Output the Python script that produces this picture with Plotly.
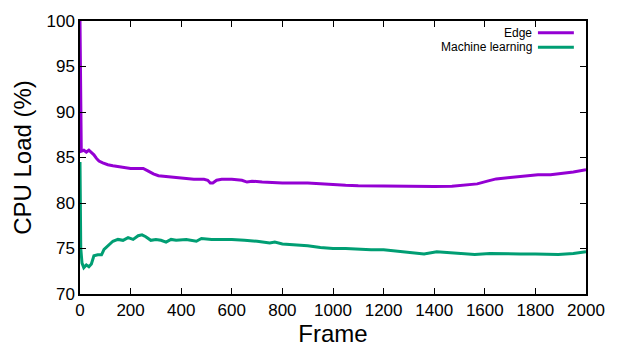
import plotly.graph_objects as go

edge_x = [0, 2, 5, 15, 25, 35, 45, 55, 65, 75, 90, 110, 130, 150, 180, 200, 230, 250, 270, 290, 310, 340,
          370, 400, 450, 490, 505, 515, 525, 540, 560, 600, 640, 660, 680, 720, 800, 900, 950, 1000, 1050,
          1100, 1200, 1300, 1400, 1470, 1520, 1570, 1610, 1645, 1700, 1760, 1810, 1860, 1900, 1950, 2000]
edge_y = [100, 86.1, 85.7, 85.8, 85.6, 85.8, 85.6, 85.3, 84.9, 84.6, 84.4, 84.2, 84.1, 84.0, 83.9, 83.8,
          83.8, 83.8, 83.5, 83.2, 83.0, 82.9, 82.8, 82.7, 82.6, 82.6, 82.5, 82.2, 82.2, 82.5, 82.6, 82.6,
          82.5, 82.3, 82.4, 82.3, 82.2, 82.2, 82.1, 82.0, 81.95, 81.9, 81.85, 81.85, 81.8, 81.85, 82.0,
          82.1, 82.4, 82.65, 82.8, 82.95, 83.1, 83.1, 83.2, 83.4, 83.65]

ml_x = [0, 3, 8, 15, 25, 35, 45, 55, 70, 85, 95, 110, 130, 150, 170, 190, 210, 230, 245, 260, 280, 300,
        320, 340, 360, 380, 420, 460, 480, 520, 560, 600, 650, 700, 750, 770, 800, 850, 900, 950, 1000,
        1050, 1100, 1150, 1200, 1250, 1300, 1360, 1410, 1460, 1520, 1560, 1620, 1680, 1740, 1800, 1890,
        1950, 2000]
ml_y = [84.5, 75.0, 73.4, 72.9, 73.2, 73.0, 73.3, 74.2, 74.3, 74.3, 74.9, 75.3, 75.8, 76.0, 75.9, 76.2,
        76.0, 76.4, 76.5, 76.3, 75.9, 76.0, 75.9, 75.7, 76.0, 75.9, 76.0, 75.8, 76.1, 76.0, 76.0, 76.0,
        75.9, 75.8, 75.6, 75.7, 75.5, 75.4, 75.3, 75.1, 75.0, 75.0, 74.9, 74.85, 74.85, 74.7, 74.6, 74.4,
        74.65, 74.55, 74.4, 74.35, 74.45, 74.4, 74.4, 74.4, 74.35, 74.45, 74.65]

series_names = ["Edge", "Machine learning"]
colors = ["#9400D3", "#009E73"]

x_ticks = [0, 200, 400, 600, 800, 1000, 1200, 1400, 1600, 1800, 2000]
y_ticks = [70, 75, 80, 85, 90, 95, 100]

font_family = "Liberation Sans, Arial, sans-serif"

fig = go.Figure()
for xs, ys, name, c in [(edge_x, edge_y, series_names[0], colors[0]),
                        (ml_x, ml_y, series_names[1], colors[1])]:
    fig.add_trace(go.Scatter(x=xs, y=ys, mode="lines", name=name,
                             line=dict(color=c, width=3), showlegend=False))

axis_common = dict(showgrid=False, zeroline=False, showline=True, linecolor="black", linewidth=1.5,
                   mirror="ticks", ticks="inside", ticklen=6, tickcolor="black", tickwidth=1,
                   tickfont=dict(family=font_family, size=17, color="black"))

fig.update_layout(
    width=621, height=352,
    margin=dict(l=80, r=35, t=12, b=58),
    paper_bgcolor="white", plot_bgcolor="white",
    font=dict(family=font_family, color="black"),
    xaxis=dict(range=[0, 2000], tickvals=x_ticks,
               title=dict(text="Frame", font=dict(size=24), standoff=2), **axis_common),
    yaxis=dict(range=[70, 100], tickvals=y_ticks,
               title=dict(text="CPU Load (%)", font=dict(size=24), standoff=8), **axis_common),
)

# custom legend (text right-aligned, sample line to the right)
legend_y = [0.957, 0.904]
for name, c, yp in zip(series_names, colors, legend_y):
    fig.add_annotation(x=0.897, y=yp, xref="paper", yref="paper", text=name, showarrow=False,
                       xanchor="right", yanchor="middle", xshift=0,
                       font=dict(size=12, family=font_family, color="black"))
    fig.add_shape(type="line", xref="paper", yref="paper", x0=0.905, x1=0.976, y0=yp, y1=yp,
                  line=dict(color=c, width=3))

fig.write_html("out.html")
